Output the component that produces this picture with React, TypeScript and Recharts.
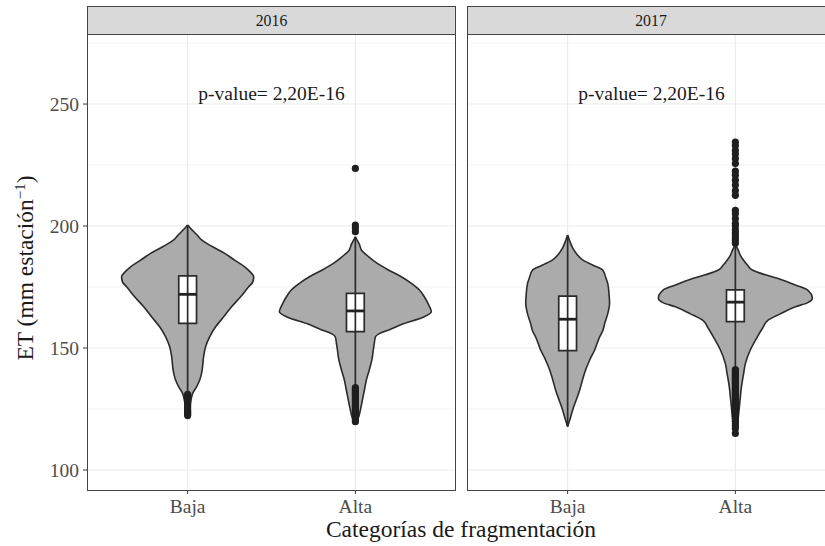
import React from 'react';
import {
  ComposedChart,
  Area,
  XAxis,
  YAxis,
  CartesianGrid,
  ReferenceLine,
  ReferenceArea,
  ReferenceDot,
  Scatter,
} from 'recharts';

const FONT = '"Liberation Serif", "Times New Roman", serif';

// facets, categories, ticks
const years = ['2016', '2017'];
const categories = ['Baja', 'Alta'];
const yTicks = [100, 150, 200, 250];
const yMinorTicks = [125, 175, 225, 275];
const xTicks = [1, 2];
const pValueText = 'p-value= 2,20E-16';
const pValueY = 254.4;

// violin outlines: ET levels and half widths (category units)
const baja2016Et = [200.4, 199, 196.5, 194.3, 191.5, 188.8, 186, 183.3, 181, 179.2, 177, 175.1, 171, 166.9, 162.8, 158.7, 154.6, 150.5, 146.4, 142.3, 139.6, 136.9, 134.2, 131.4, 128, 124, 122.5];
const baja2016Hw = [0, 0.018, 0.054, 0.083, 0.149, 0.221, 0.28, 0.34, 0.376, 0.394, 0.388, 0.364, 0.316, 0.262, 0.215, 0.167, 0.131, 0.107, 0.095, 0.089, 0.083, 0.072, 0.054, 0.03, 0.018, 0.009, 0];

const alta2016Et = [195.6, 194, 192.5, 190.2, 187.5, 184.7, 182, 179.2, 176.5, 173.8, 171, 168, 164.9, 162.5, 160, 157.4, 155.8, 154.6, 152, 149.2, 145, 141, 137, 132.8, 128.7, 124.6, 121.5, 119.5];
const alta2016Hw = [0, 0.012, 0.024, 0.036, 0.078, 0.131, 0.197, 0.274, 0.334, 0.382, 0.411, 0.435, 0.453, 0.4, 0.29, 0.2, 0.14, 0.12, 0.113, 0.107, 0.098, 0.083, 0.066, 0.054, 0.042, 0.03, 0.018, 0];

const baja2017Et = [196.3, 194, 191, 188.5, 186.1, 184, 182, 179, 176.5, 172, 168.3, 164, 160.1, 157, 154.6, 149.2, 145, 141, 137, 132.8, 128.7, 124.6, 121, 117.8];
const baja2017Hw = [0, 0.012, 0.03, 0.054, 0.089, 0.149, 0.209, 0.227, 0.239, 0.247, 0.25, 0.239, 0.221, 0.209, 0.191, 0.161, 0.131, 0.107, 0.089, 0.072, 0.051, 0.03, 0.015, 0];

const alta2017Et = [192.5, 190, 188, 186.1, 184, 182, 180, 177.9, 175.8, 173.8, 170.4, 168.5, 166.9, 164, 161.5, 158, 154.6, 149.2, 143.7, 139, 134, 128, 122, 117, 115];
const alta2017Hw = [0, 0.018, 0.03, 0.048, 0.072, 0.101, 0.179, 0.28, 0.358, 0.429, 0.459, 0.429, 0.358, 0.268, 0.197, 0.161, 0.131, 0.089, 0.06, 0.048, 0.036, 0.027, 0.018, 0.009, 0];

// boxplot stats: [lower whisker, q1, median, q3, upper whisker]
const box2016Baja = [131, 160.1, 172.0, 179.6, 200.4];
const box2016Alta = [134, 156.7, 165.2, 172.4, 195.6];
const box2017Baja = [117.8, 148.9, 161.8, 171.3, 196.3];
const box2017Alta = [141, 160.8, 168.8, 173.8, 192.5];
const boxHalfWidth = 0.053;

// outliers
const out2016Baja = [131, 130.3, 129.6, 128.9, 128.2, 127.5, 126.8, 126.1, 125.4, 124.7, 124.0, 123.4, 122.8, 122.3];
const out2016Alta = [223.6, 200.4, 199.2, 197.7, 133.8, 133.1, 132.4, 131.7, 131.0, 130.3, 129.6, 128.9, 128.2, 127.5, 126.8, 126.1, 125.4, 124.7, 124.0, 123.3, 122.6, 121.9, 121.2, 120.5, 119.8];
const out2017Baja: number[] = [];
const out2017Alta = [234.4, 233.0, 231.0, 229.5, 227.6, 225.6, 222.5, 220.8, 218.8, 216.8, 214.5, 212.6, 206.4, 205.0, 203.0, 201.0, 200.0, 198.4, 197.2, 196.3, 195.2, 194.3, 192.9,
  141.2, 140.4, 139.6, 138.8, 138.0, 137.2, 136.4, 135.6, 134.8, 134.0, 133.2, 132.4, 131.6, 130.8, 130.0, 129.2, 128.4, 127.6, 126.8, 126.0, 125.2, 124.4, 123.6, 122.8, 122.0, 121.0, 120.0, 119.0, 118.0, 117.0, 115.0];

const panels = [
  {
    year: years[0], left: 0, width: 456, showY: true,
    violins: [[baja2016Et, baja2016Hw], [alta2016Et, alta2016Hw]],
    boxes: [box2016Baja, box2016Alta],
    outliers: [out2016Baja, out2016Alta],
  },
  {
    year: years[1], left: 466.5, width: 369, showY: false,
    violins: [[baja2017Et, baja2017Hw], [alta2017Et, alta2017Hw]],
    boxes: [box2017Baja, box2017Alta],
    outliers: [out2017Baja, out2017Alta],
  },
];

const dot = (props: any) => <circle cx={props.cx} cy={props.cy} r={3.6} fill="#1f1f1f" />;

// p-value annotation, placed at the dot that the library positions
const pLabel = (props: any) => {
  const vb = props.viewBox || {};
  return (
    <text
      x={vb.x + (vb.width || 0) / 2}
      y={vb.y + (vb.height || 0) / 2}
      dy="0.35em"
      textAnchor="middle"
      fill="#1a1a1a"
      fontSize={19.5}
      style={{ fontFamily: FONT }}
    >
      {pValueText}
    </text>
  );
};

function Panel({ p }: { p: (typeof panels)[number] }) {
  const plotLeft = p.left + (p.showY ? 87 : 0);
  return (
    <>
      <div style={{ position: 'absolute', left: p.left, top: 0 }}>
        <ComposedChart
          layout="vertical"
          width={p.width}
          height={546}
          margin={{ top: 35, right: 0, bottom: 0, left: 0 }}
          style={{ fontFamily: FONT }}
        >
          <CartesianGrid vertical={false} stroke="#f2f2f2" strokeWidth={0.8} horizontalValues={yMinorTicks} />
          <CartesianGrid stroke="#ebebeb" strokeWidth={1.1} horizontalValues={yTicks} verticalValues={xTicks} />
          <XAxis
            type="number"
            dataKey="pos"
            domain={[0.4, 2.6]}
            allowDataOverflow
            ticks={xTicks}
            interval={0}
            tickFormatter={(v: number) => categories[v - 1]}
            height={56}
            axisLine={false}
            tickSize={4}
            tickMargin={5}
            tickLine={{ stroke: '#333' }}
            tick={{ fill: '#4d4d4d', fontSize: 19.5, fontFamily: FONT }}
          />
          <YAxis
            type="number"
            dataKey="et"
            domain={[91.8, 278.3]}
            allowDataOverflow
            reversed
            ticks={yTicks}
            interval={0}
            width={87}
            hide={!p.showY}
            axisLine={false}
            tickSize={4}
            tickMargin={4}
            tickLine={{ stroke: '#333' }}
            tick={{ fill: '#4d4d4d', fontSize: 19.5, fontFamily: FONT }}
          />
          {p.violins.map(([et, hw], i) => (
            <Area
              key={'v' + i}
              data={et.map((e, k) => ({ et: e, band: [i + 1 - hw[k], i + 1 + hw[k]] }))}
              dataKey="band"
              type="monotone"
              stroke="#2b2b2b"
              strokeWidth={1.6}
              fill="#ababab"
              fillOpacity={1}
              dot={false}
              activeDot={false}
              isAnimationActive={false}
            />
          ))}
          {p.boxes.map((b, i) => (
            <ReferenceLine
              key={'w' + i}
              segment={[{ x: i + 1, y: b[0] }, { x: i + 1, y: b[4] }]}
              stroke="#2b2b2b"
              strokeWidth={1.7}
            />
          ))}
          {p.boxes.map((b, i) => (
            <ReferenceArea
              key={'b' + i}
              x1={i + 1 - boxHalfWidth}
              x2={i + 1 + boxHalfWidth}
              y1={b[1]}
              y2={b[3]}
              fill="#ffffff"
              fillOpacity={1}
              stroke="#2b2b2b"
              strokeWidth={1.7}
            />
          ))}
          {p.boxes.map((b, i) => (
            <ReferenceLine
              key={'m' + i}
              segment={[{ x: i + 1 - boxHalfWidth, y: b[2] }, { x: i + 1 + boxHalfWidth, y: b[2] }]}
              stroke="#222"
              strokeWidth={2.8}
            />
          ))}
          {p.outliers.map((o, i) => (
            <Scatter
              key={'o' + i}
              data={o.map((e) => ({ pos: i + 1, et: e }))}
              shape={dot}
              isAnimationActive={false}
            />
          ))}
          <ReferenceDot x={1.5} y={pValueY} r={0} fill="none" stroke="none" label={pLabel} />
        </ComposedChart>
      </div>
      <div
        style={{
          position: 'absolute', left: plotLeft, top: 6, width: 369, height: 29, boxSizing: 'border-box',
          background: '#d9d9d9', border: '1.3px solid #444', display: 'flex', alignItems: 'center',
          justifyContent: 'center', fontSize: 15.8, color: '#1a1a1a', fontFamily: FONT,
        }}
      >
        {p.year}
      </div>
      <div
        style={{
          position: 'absolute', left: plotLeft, top: 34, width: 369, height: 456.5, boxSizing: 'border-box',
          border: '1.3px solid #444', pointerEvents: 'none',
        }}
      />
    </>
  );
}

export default function App() {
  return (
    <div
      style={{
        position: 'absolute', left: 0, top: 0, width: 825, height: 546, overflow: 'hidden',
        background: '#fff', fontFamily: FONT,
      }}
    >
      <style>{`.recharts-wrapper text { font-family: ${FONT} !important; }`}</style>
      {panels.map((p) => (
        <Panel key={p.year} p={p} />
      ))}
      <svg style={{ position: 'absolute', left: 0, top: 0 }} width={50} height={546}>
        <text transform="translate(33, 268) rotate(-90)" textAnchor="middle" fontSize={23.5} fill="#1a1a1a" fontFamily={FONT}>
          ET (mm estación
          <tspan dy={-8} fontSize={15}>−1</tspan>
          <tspan dy={8}>)</tspan>
        </text>
      </svg>
      <div
        style={{
          position: 'absolute', left: 0, top: 518, width: 922, textAlign: 'center', fontSize: 23.5,
          lineHeight: 1, color: '#1a1a1a', whiteSpace: 'nowrap',
        }}
      >
        Categorías de fragmentación
      </div>
    </div>
  );
}
